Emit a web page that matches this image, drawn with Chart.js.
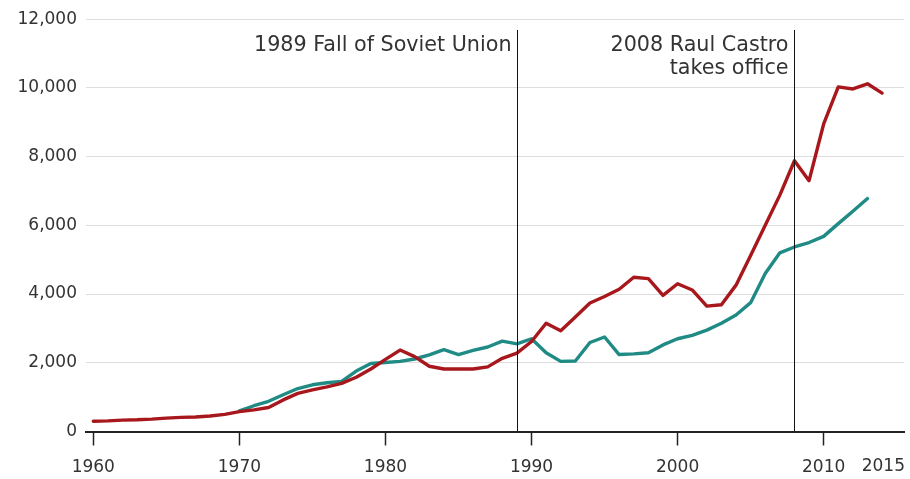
<!DOCTYPE html>
<html>
<head>
<meta charset="utf-8">
<script src="https://cdn.jsdelivr.net/npm/chart.js@4/dist/chart.umd.min.js"></script>
<style>
  html, body { margin: 0; padding: 0; background: #ffffff; }
  #wrap { width: 910px; height: 479px; position: relative; }
</style>
</head>
<body>
<div id="wrap"><canvas id="c"></canvas></div>
<script>
// ---- data ----
const years = [1960,1961,1962,1963,1964,1965,1966,1967,1968,1969,
               1970,1971,1972,1973,1974,1975,1976,1977,1978,1979,
               1980,1981,1982,1983,1984,1985,1986,1987,1988,1989,
               1990,1991,1992,1993,1994,1995,1996,1997,1998,1999,
               2000,2001,2002,2003,2004,2005,2006,2007,2008,2009,
               2010,2011,2012,2013,2014];
const redSeries = [300,310,330,340,360,390,410,420,450,500,
                   580,630,700,920,1110,1210,1300,1400,1580,1820,
                   2100,2370,2180,1900,1820,1820,1820,1880,2130,2280,
                   2620,3150,2930,3330,3740,3930,4140,4490,4450,3960,
                   4300,4120,3650,3690,4260,5120,6000,6880,7880,7300,
                   8950,10030,9970,10120,9850];
const tealSeries = [null,null,null,null,null,null,null,null,null,null,
                    600,750,880,1070,1250,1360,1420,1460,1760,1980,
                    2010,2040,2110,2230,2380,2240,2360,2460,2630,2550,
                    2700,2290,2040,2050,2590,2750,2240,2260,2290,2520,
                    2700,2800,2950,3150,3390,3750,4600,5200,5370,5500,
                    5680,6050,6410,6780,null];
const xTickValues = [1960,1970,1980,1990,2000,2010];
const xEndLabel = '2015';
const yTickValues = [0,2000,4000,6000,8000,10000,12000];
const eventYears = [1989, 2008];
const eventLabels = [['1989 Fall of Soviet Union'], ['2008 Raul Castro','takes office']];

const TEXT = '#333333';
const FONT = 'DejaVu Sans';

const toPts = arr => years.map((yr, i) => ({x: yr, y: arr[i]}));

const eventsPlugin = {
  id: 'events',
  afterDatasetsDraw(chart) {
    const {ctx, scales: {x, y}, chartArea} = chart;
    ctx.save();
    ctx.strokeStyle = '#111';
    ctx.lineWidth = 1;
    eventYears.forEach((yr, i) => {
      const px = Math.round(x.getPixelForValue(yr)) + 0.5;
      ctx.beginPath();
      ctx.moveTo(px, 30);
      ctx.lineTo(px, chartArea.bottom);
      ctx.stroke();
      ctx.fillStyle = TEXT;
      ctx.font = '20.7px "' + FONT + '"';
      ctx.textAlign = 'right';
      ctx.textBaseline = 'alphabetic';
      eventLabels[i].forEach((line, j) => {
        ctx.fillText(line, px - 6, 51 + j * 22.5);
      });
    });
    // end label (no tick mark)
    ctx.fillStyle = TEXT;
    ctx.font = '17px "' + FONT + '"';
    ctx.textAlign = 'right';
    ctx.textBaseline = 'middle';
    ctx.fillText(xEndLabel, chartArea.right + 1, 467);
    ctx.restore();
  }
};

new Chart(document.getElementById('c'), {
  type: 'line',
  data: {
    datasets: [
      { label: 'red', data: toPts(redSeries), borderColor: '#a8171c', borderWidth: 3.4,
        pointRadius: 0, tension: 0, fill: false, borderJoinStyle: 'round', borderCapStyle: 'round', spanGaps: false },
      { label: 'teal', data: toPts(tealSeries), borderColor: '#1f8b84', borderWidth: 3.4,
        pointRadius: 0, tension: 0, fill: false, borderJoinStyle: 'round', borderCapStyle: 'round', spanGaps: false }
    ]
  },
  options: {
    responsive: true,
    maintainAspectRatio: false,
    animation: false,
    layout: { padding: { top: 17, right: 6, left: 0, bottom: 0 } },
    plugins: { legend: { display: false }, tooltip: { enabled: false } },
    scales: {
      x: {
        type: 'linear',
        min: 1959.5,
        max: 2015.5,
        afterBuildTicks: s => { s.ticks = xTickValues.map(v => ({value: v})); },
        afterFit: s => { s.height = 47.5; },
        ticks: { color: TEXT, font: { family: FONT, size: 17 }, padding: 12, maxRotation: 0, autoSkip: false,
                 callback: v => String(v) },
        grid: { drawOnChartArea: false, drawTicks: true, tickLength: 14, tickColor: '#222', tickWidth: 1.5 },
        border: { display: true, color: '#222', width: 2 }
      },
      y: {
        min: 0,
        max: 12000,
        afterBuildTicks: s => { s.ticks = yTickValues.map(v => ({value: v})); },
        afterFit: s => { s.width = 86; },
        ticks: { color: TEXT, font: { family: FONT, size: 17 }, padding: 9,
                 callback: v => v.toLocaleString('en-US') },
        grid: { color: '#dddddd', lineWidth: 1, drawTicks: false },
        border: { display: false }
      }
    }
  },
  plugins: [eventsPlugin]
});
</script>
</body>
</html>
